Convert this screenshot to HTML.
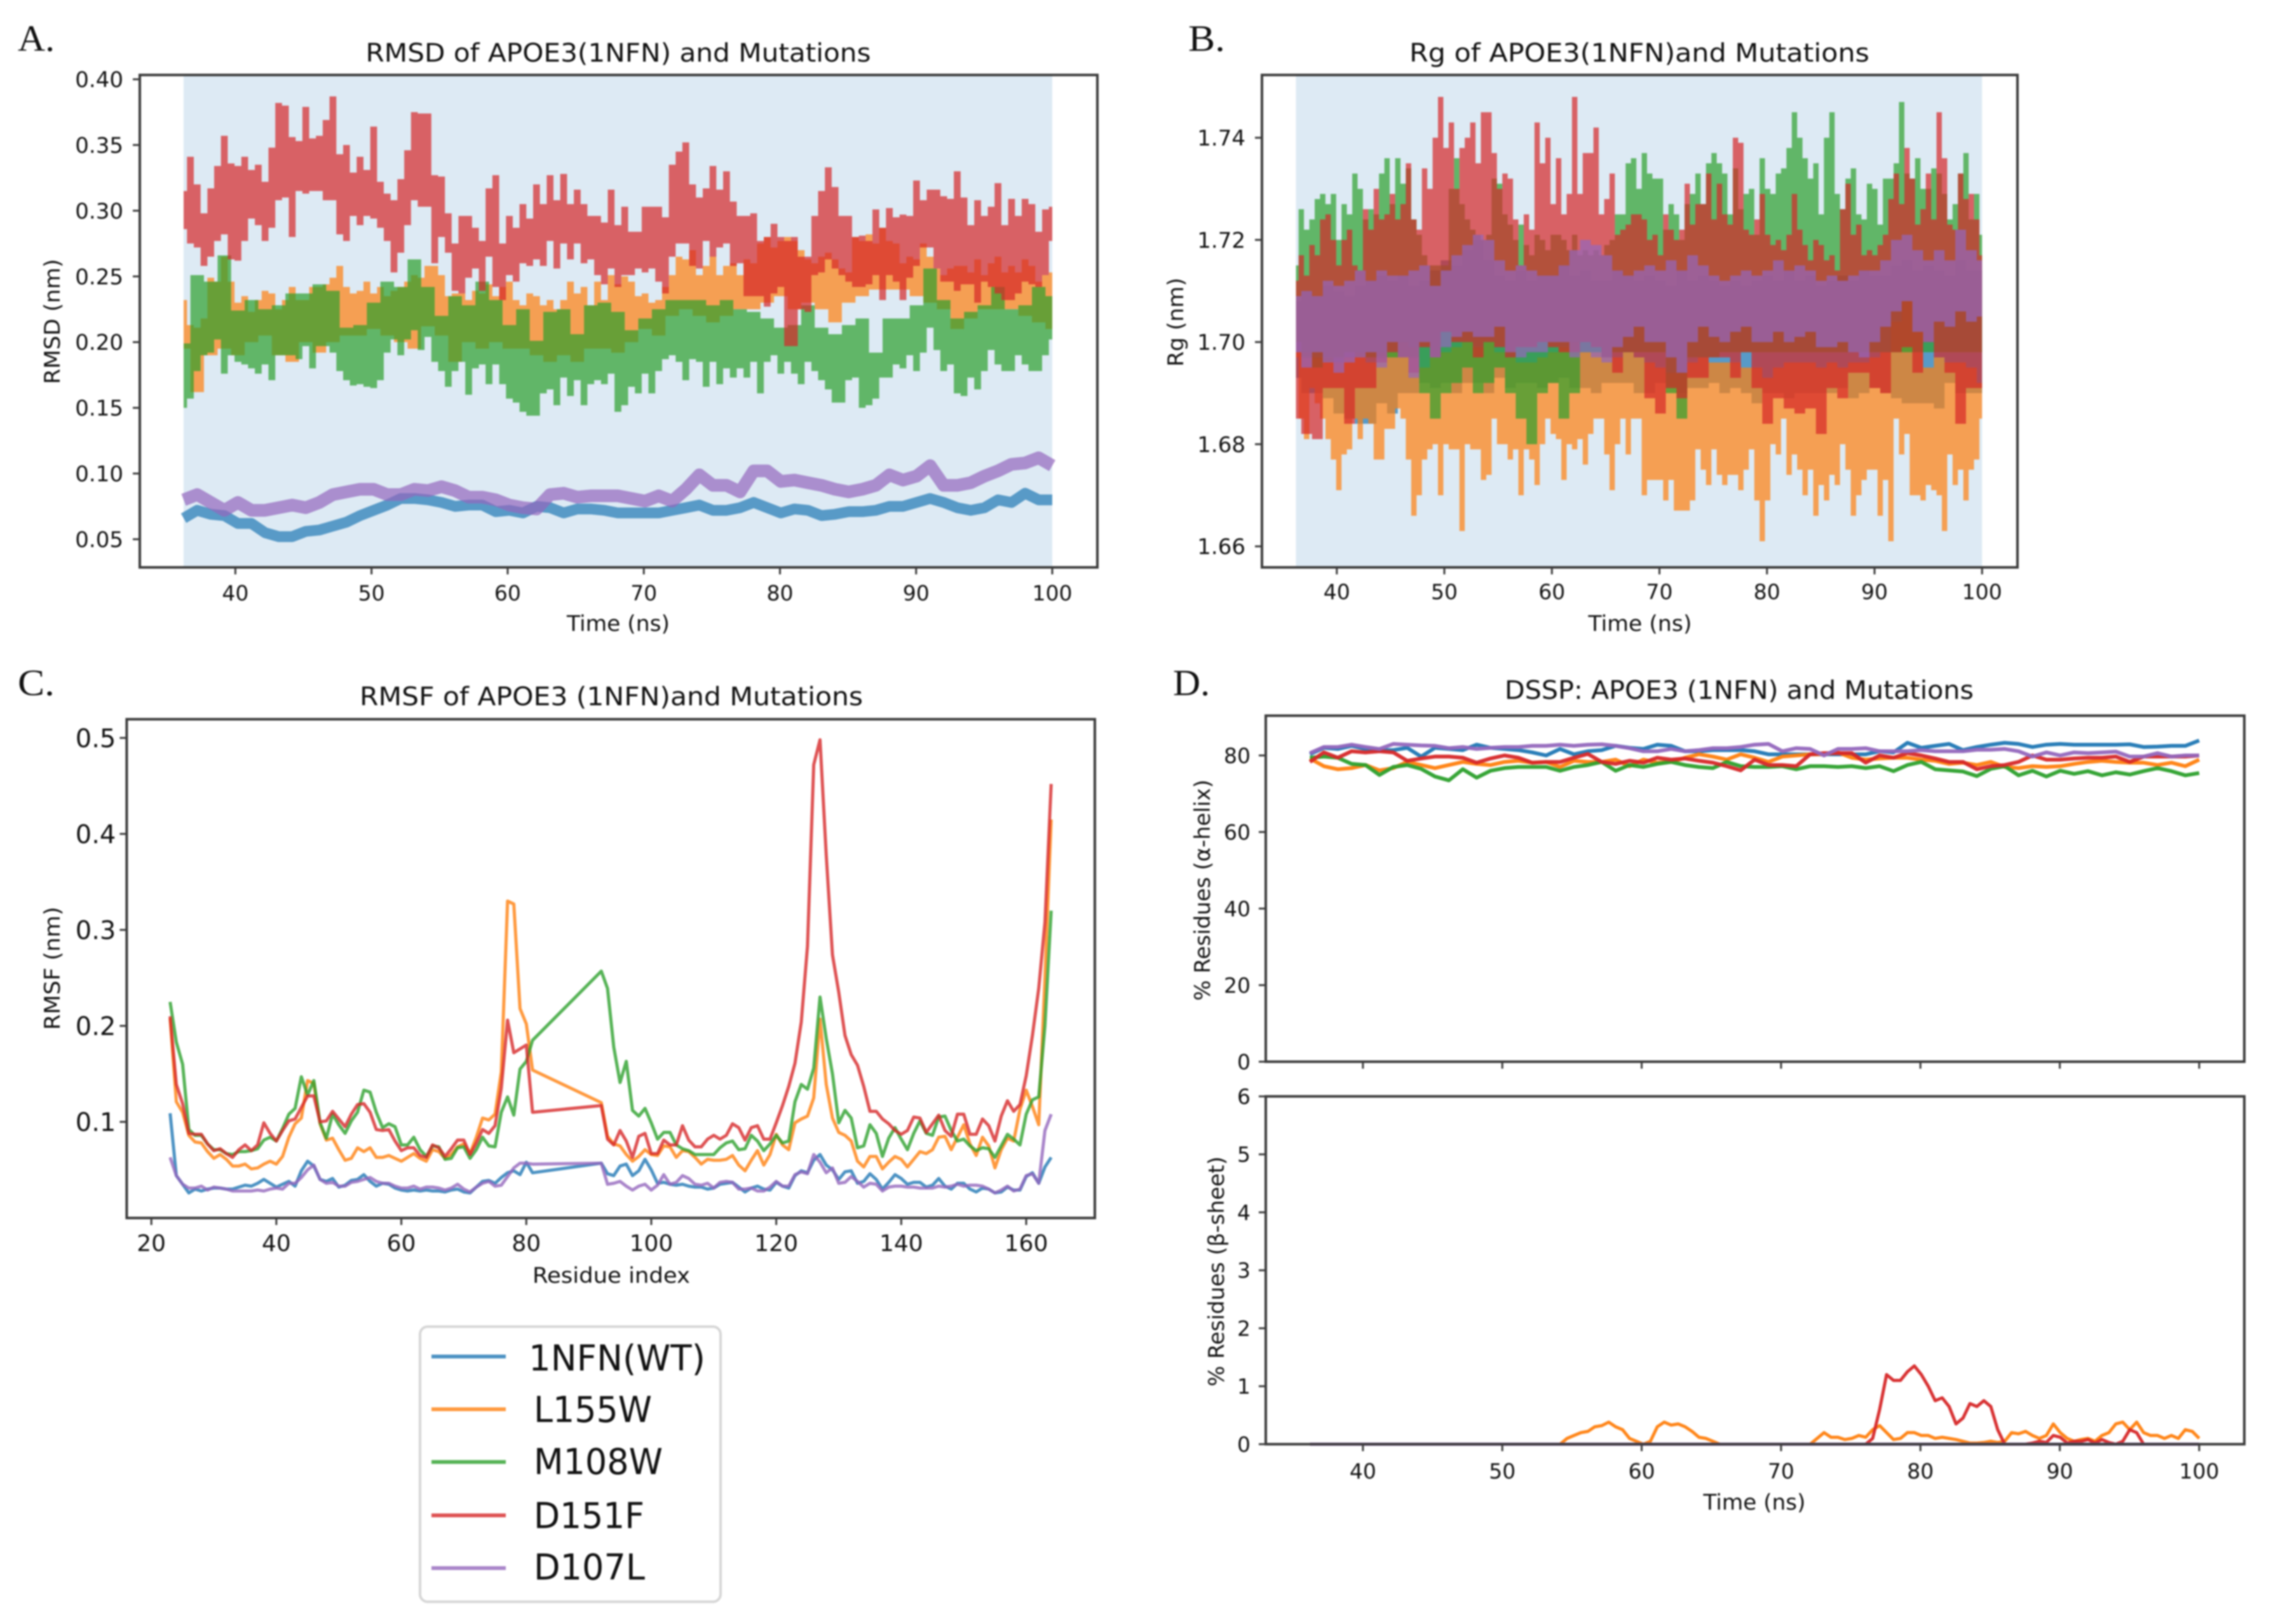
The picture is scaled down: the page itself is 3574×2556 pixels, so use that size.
<!DOCTYPE html>
<html lang="en">
<head>
<meta charset="utf-8">
<title>APOE3 (1NFN) and Mutations: RMSD, Rg, RMSF and DSSP</title>
<style>
html,body{margin:0;padding:0;background:#fff;width:3574px;height:2556px;overflow:hidden}
#figure{display:block;filter:blur(1.4px);font-family:"DejaVu Sans","Liberation Sans",sans-serif;fill:#111}
.letter{font-family:"Liberation Serif",serif;font-size:58px;fill:#111}
.title{font-size:40px}
.axis-label{font-size:34px}
.legend-text{font-size:56px}
</style>
</head>
<body>
<svg id="figure" xmlns="http://www.w3.org/2000/svg" width="3574" height="2556" viewBox="0 0 3574 2556">
  <rect width="3574" height="2556" fill="#fff"/>

  <g id="panelA">
    <text class="letter" x="28" y="80" textLength="58" lengthAdjust="spacingAndGlyphs">A.</text>
    <text class="title" x="973" y="97" text-anchor="middle" textLength="795" lengthAdjust="spacingAndGlyphs">RMSD of APOE3(1NFN) and Mutations</text>
    <text class="axis-label" x="973" y="993" text-anchor="middle" textLength="162" lengthAdjust="spacingAndGlyphs">Time (ns)</text>
    <text class="axis-label" x="94" y="506" text-anchor="middle" transform="rotate(-90 94 506)" textLength="197" lengthAdjust="spacingAndGlyphs">RMSD (nm)</text>
  </g>
  <g id="panelB">
    <text class="letter" x="1870" y="80" textLength="58" lengthAdjust="spacingAndGlyphs">B.</text>
    <text class="title" x="2580" y="97" text-anchor="middle" textLength="724" lengthAdjust="spacingAndGlyphs">Rg of APOE3(1NFN)and Mutations</text>
    <text class="axis-label" x="2581" y="993" text-anchor="middle" textLength="163" lengthAdjust="spacingAndGlyphs">Time (ns)</text>
    <text class="axis-label" x="1862" y="507" text-anchor="middle" transform="rotate(-90 1862 507)" textLength="140" lengthAdjust="spacingAndGlyphs">Rg (nm)</text>
  </g>
  <g id="panelC">
    <text class="letter" x="28" y="1094" textLength="58" lengthAdjust="spacingAndGlyphs">C.</text>
    <text class="title" x="962" y="1110" text-anchor="middle" textLength="792" lengthAdjust="spacingAndGlyphs">RMSF of APOE3 (1NFN)and Mutations</text>
    <text class="axis-label" x="962" y="2019" text-anchor="middle" textLength="248" lengthAdjust="spacingAndGlyphs">Residue index</text>
    <text class="axis-label" x="94" y="1524" text-anchor="middle" transform="rotate(-90 94 1524)" textLength="194" lengthAdjust="spacingAndGlyphs">RMSF (nm)</text>
  </g>
  <g id="panelD">
    <text class="letter" x="1846" y="1094" textLength="58" lengthAdjust="spacingAndGlyphs">D.</text>
    <text class="title" x="2737" y="1100" text-anchor="middle" textLength="738" lengthAdjust="spacingAndGlyphs">DSSP: APOE3 (1NFN) and Mutations</text>
    <text class="axis-label" x="2761" y="2376" text-anchor="middle" textLength="161" lengthAdjust="spacingAndGlyphs">Time (ns)</text>
    <text class="axis-label" x="1904" y="1401" text-anchor="middle" transform="rotate(-90 1904 1401)" textLength="348" lengthAdjust="spacingAndGlyphs">% Residues (α-helix)</text>
    <text class="axis-label" x="1926" y="2001" text-anchor="middle" transform="rotate(-90 1926 2001)" textLength="362" lengthAdjust="spacingAndGlyphs">% Residues (β-sheet)</text>
  </g>

  <g id="legend">
    <rect x="661" y="2088" width="473" height="433" rx="12" fill="#fff" stroke="#d6d6d6" stroke-width="4"/>
    <g>
      <line x1="679" y1="2135" x2="796" y2="2135" stroke="#1f77b4" stroke-opacity=".8" stroke-width="6"/>
      <text class="legend-text" x="832" y="2157" textLength="278" lengthAdjust="spacingAndGlyphs">1NFN(WT)</text>
    </g>
    <g>
      <line x1="679" y1="2218" x2="796" y2="2218" stroke="#ff7f0e" stroke-opacity=".8" stroke-width="6"/>
      <text class="legend-text" x="840" y="2238" textLength="186" lengthAdjust="spacingAndGlyphs">L155W</text>
    </g>
    <g>
      <line x1="679" y1="2301" x2="796" y2="2301" stroke="#2ca02c" stroke-opacity=".8" stroke-width="6"/>
      <text class="legend-text" x="840" y="2320" textLength="203" lengthAdjust="spacingAndGlyphs">M108W</text>
    </g>
    <g>
      <line x1="679" y1="2385" x2="796" y2="2385" stroke="#d62728" stroke-opacity=".8" stroke-width="6"/>
      <text class="legend-text" x="840" y="2405" textLength="174" lengthAdjust="spacingAndGlyphs">D151F</text>
    </g>
    <g>
      <line x1="679" y1="2468" x2="796" y2="2468" stroke="#9467bd" stroke-opacity=".8" stroke-width="6"/>
      <text class="legend-text" x="840" y="2486" textLength="175" lengthAdjust="spacingAndGlyphs">D107L</text>
    </g>
  </g>
</svg>

<script>
/* ---------- tick values and labels ---------- */
const timeTicks = [40,50,60,70,80,90,100];
const timeLabels = ["40","50","60","70","80","90","100"];
const rmsdTicks = [50,100,150,200,250,300,350,400];
const rmsdLabels = ["0.05","0.10","0.15","0.20","0.25","0.30","0.35","0.40"];
const rgTicks = [1660,1680,1700,1720,1740];
const rgLabels = ["1.66","1.68","1.70","1.72","1.74"];
const rmsfXTicks = [20,40,60,80,100,120,140,160];
const rmsfXLabels = ["20","40","60","80","100","120","140","160"];
const rmsfYTicks = [100,200,300,400,500];
const rmsfYLabels = ["0.1","0.2","0.3","0.4","0.5"];
const helixTicks = [0,20,40,60,80];
const helixLabels = ["0","20","40","60","80"];
const sheetTicks = [0,1,2,3,4,5,6];
const sheetLabels = ["0","1","2","3","4","5","6"];

/* ---------- A. RMSD, thousandths of a nm; traces span the analysis window evenly ---------- */
const rmsdWT = [66,72,69,68,62,62,55,52, 52,56,57,60,63,68,72,76, 81,81,80,78,75,76,76,71, 72,70,75,74,70,73,73,72, 70,70,70,70,72,74,76,72, 72,74,78,74,70,73,72,68, 69,71,71,72,75,75,78,81, 78,74,72,74,80,78,85,80, 80];
const rmsdD107L = [80,84,78,72,78,72,72,74, 76,74,78,84,86,88,88,84, 84,88,87,90,87,82,82,80, 76,74,73,84,85,82,83,83, 83,81,79,83,79,88,99,91, 91,86,102,102,94,95,93,91, 88,86,88,91,99,95,98,106, 91,91,93,98,102,107,108,112, 106];
const rmsdL155WHigh = [232,213,211,218,249,246,265,246,230,235,223,232,239,237,225,232,
242,232,232,242,242,244,249,258,242,237,239,246,237,242,235,239,
242,246,251,249,258,258,251,235,237,237,232,239,237,244,235,242,
246,232,228,237,235,228,232,225,232,246,237,242,228,246,232,251,
244,250,246,235,237,230,232,242,251,265,263,270,251,258,265,251,
258,260,251,263,260,275,280,272,277,280,277,270,263,260,265,268,
263,256,253,280,277,282,275,287,277,275,260,265,263,275,265,256,
251,256,258,258,253,263,251,260,265,253,258,253,263,258,246,251,
253];
const rmsdL155WLow = [195,162,190,195,190,200,205,190, 185,200,192,200,205,205,210,205, 200,195,212,205,185,200,195,200, 195,195,190,185,190,185,195,195, 192,200,210,205,220,225,220,215, 220,225,225,230,235,225,230,225, 215,230,235,240,240,240,235,230, 225,210,218,225,225,225,220,215, 210];
const rmsdM108WHigh = [199,251,246,266,224,232,225,228, 237,237,244,239,211,213,230,246, 242,263,242,220,235,228,246,232, 213,225,201,223,225,206,228,230, 223,209,218,225,232,232,232,228, 232,225,223,218,211,213,228,211, 206,213,218,192,218,218,228,256, 232,218,223,228,242,225,228,242, 235];
const rmsdM108WLow = [150,157,178,190,192,202,176,190,185,183,180,176,183,171,190,190,
190,187,197,180,197,197,192,178,171,167,168,166,165,171,192,202,
190,202,209,194,204,185,178,166,178,185,160,180,183,168,183,168,
157,154,147,144,144,161,164,152,173,159,171,152,168,171,168,176,
147,152,166,161,176,161,178,187,190,185,171,187,185,166,185,168,
180,173,180,173,185,161,185,190,176,185,176,168,185,178,171,164,
154,154,171,173,150,152,157,173,173,183,180,190,178,192,211,194,
178,183,161,159,173,164,178,194,183,178,178,190,183,178,178,190,
202];
const rmsdD151FHigh = [315,341,320,298,317,334,357,336,334,341,331,335,322,348,382,380,
356,353,379,355,357,369,387,343,350,329,341,331,364,322,313,308,
324,346,375,374,374,327,326,298,275,296,296,287,277,317,327,275,
296,287,305,294,320,305,327,308,328,305,316,305,296,296,291,316,
289,303,284,284,303,303,303,295,335,345,352,320,310,317,334,316,
330,307,296,296,298,277,280,290,280,277,280,265,265,296,315,333,
318,296,296,280,281,277,301,287,302,295,297,296,323,308,316,316,
311,309,330,310,289,308,296,303,321,289,309,296,309,305,284,301,
303];
const rmsdD151FLow = [286,275,272,258,265,277,282,263,262,277,294,289,277,287,308,310,
280,315,313,315,315,308,308,282,277,296,289,296,294,287,277,253,
268,289,308,303,303,260,280,268,239,237,249,256,239,265,242,232,
251,246,260,258,263,258,277,256,275,263,275,260,263,251,244,256,
242,251,251,256,253,256,246,237,265,275,275,258,256,277,265,272,
275,258,260,235,235,235,227,237,242,197,197,225,223,251,253,263,
256,251,246,242,242,244,251,232,251,246,232,249,258,272,272,256,
246,246,239,244,244,230,246,242,237,232,232,237,246,244,242,251,
277];

/* ---------- B. Rg, thousandths of a nm ---------- */
const rgWTHigh = [1708,1710,1709,1711,1710,1709,1711,1712, 1713,1712,1713,1711,1712,1714,1716,1715, 1718,1720,1716,1713,1712,1714,1712,1713, 1713,1715,1713,1714,1712,1712,1714,1713, 1712,1713,1712,1711,1714,1712,1713,1712, 1711,1712,1711,1712,1713,1712,1714,1712, 1713,1711,1712,1713,1712,1714,1713,1713, 1715,1716,1714,1715,1714,1713,1716,1714, 1714];
const rgWTLow = [1693,1690,1690,1689,1686,1685,1684,1684, 1688,1686,1690,1690,1692,1691,1692,1690, 1692,1692,1690,1693,1691,1692,1692,1691, 1692,1693,1691,1691,1690,1692,1692,1692, 1690,1690,1692,1691,1690,1691,1691,1692, 1690,1691,1690,1688,1690,1690,1689,1690, 1690,1690,1690,1691,1689,1690,1691,1690, 1689,1688,1688,1688,1687,1692,1690,1690, 1690];
const rgL155WHigh = [1698,1698,1697,1697,1696,1697,1698,1696, 1698,1698,1700,1699,1695,1697,1698,1699, 1700,1699,1700,1698,1697,1696,1696,1697, 1698,1699,1700,1698,1698,1697,1697,1698, 1697,1696,1695,1694,1694,1696,1697,1696, 1696,1696,1695,1695,1693,1695,1696,1696, 1696,1695,1696,1695,1696,1696,1697,1698, 1704,1708,1702,1695,1697,1696,1696,1695, 1692];
const rgL155WLow = [1697,1685,1681,1691,1688,1685,1681,1677,1671,1678,1679,1685,1681,1685,1684,1677,
1677,1683,1683,1687,1685,1677,1666,1670,1677,1679,1680,1670,1680,1679,1679,1663,
1680,1679,1679,1673,1674,1685,1680,1680,1677,1679,1670,1679,1677,1672,1680,1685,
1682,1681,1673,1680,1679,1681,1676,1682,1685,1685,1678,1671,1680,1685,1678,1685,
1685,1670,1673,1673,1673,1669,1673,1667,1667,1667,1669,1679,1675,1672,1679,1674,
1672,1674,1674,1671,1675,1679,1669,1661,1669,1680,1678,1685,1674,1678,1675,1670,
1675,1666,1672,1669,1674,1672,1680,1675,1666,1670,1673,1675,1675,1666,1673,1661,
1685,1678,1682,1670,1670,1669,1672,1671,1670,1663,1678,1672,1675,1669,1675,1677,
1685];
const rgM108WHigh = [1715,1726,1722,1724,1728,1729,1727,1729,1720,1727,1725,1733,1730,1724,1726,1725,
1733,1736,1727,1736,1731,1734,1724,1721,1717,1715,1715,1715,1715,1730,1736,1727,
1724,1722,1721,1720,1721,1732,1731,1725,1723,1720,1723,1719,1717,1721,1720,1718,
1721,1721,1720,1718,1721,1717,1718,1717,1718,1717,1719,1720,1725,1725,1735,1736,
1730,1737,1733,1732,1732,1722,1727,1725,1720,1727,1729,1733,1727,1735,1737,1735,
1733,1725,1734,1726,1729,1730,1721,1736,1730,1729,1733,1734,1738,1745,1740,1736,
1732,1735,1725,1740,1745,1729,1726,1732,1734,1725,1724,1731,1730,1723,1732,1732,
1735,1747,1733,1732,1736,1730,1730,1734,1733,1729,1724,1727,1733,1737,1724,1729,
1721];
const rgM108WLow = [1700,1697,1695,1696,1697,1698,1697,1697, 1697,1697,1697,1697,1690,1685,1690,1692, 1695,1690,1692,1695,1690,1685,1680,1690, 1692,1685,1690,1698,1698,1697,1698,1698, 1698,1698,1698,1690,1685,1697,1697,1697, 1698,1698,1698,1698,1698,1698,1698,1698, 1698,1698,1698,1698,1698,1698,1698,1698, 1698,1698,1698,1698,1698,1698,1698,1698, 1698];
const rgD151FHigh = [1712,1717,1713,1719,1717,1724,1725,1720,1715,1720,1722,1715,1714,1726,1722,1730,
1724,1725,1729,1724,1727,1735,1724,1722,1734,1730,1740,1748,1738,1743,1730,1738,
1740,1743,1735,1745,1745,1737,1730,1733,1732,1724,1715,1725,1722,1743,1735,1740,
1727,1736,1725,1729,1748,1729,1737,1737,1742,1725,1728,1733,1721,1722,1723,1725,
1725,1724,1720,1721,1717,1725,1722,1720,1722,1731,1723,1727,1727,1733,1724,1731,
1725,1723,1740,1739,1722,1721,1724,1729,1721,1719,1720,1718,1721,1729,1722,1719,
1716,1720,1719,1716,1717,1714,1726,1731,1721,1723,1717,1718,1717,1719,1721,1728,
1733,1727,1738,1732,1723,1726,1733,1724,1745,1736,1723,1722,1733,1728,1729,1724,
1717];
const rgD151FLow = [1685,1682,1681,1691,1691,1684,1691,1691, 1696,1698,1697,1694,1699,1697,1702,1700, 1700,1697,1700,1699,1697,1699,1699,1700, 1699,1698,1698,1700,1699,1697,1694,1698, 1697,1689,1686,1691,1689,1693,1693,1697, 1697,1693,1698,1691,1684,1689,1687,1686, 1687,1682,1691,1689,1694,1694,1691,1690, 1698,1699,1694,1700,1697,1694,1684,1691, 1691];
const rgD107LHigh = [1709,1710,1709,1712,1711,1712,1714,1712, 1714,1713,1713,1714,1715,1711,1714,1717, 1719,1721,1720,1716,1714,1715,1714,1713, 1713,1715,1718,1720,1719,1717,1714,1713, 1714,1715,1714,1716,1714,1717,1715,1713, 1712,1713,1714,1713,1714,1716,1714,1715, 1714,1712,1713,1712,1713,1714,1714,1716, 1720,1721,1718,1716,1718,1716,1722,1718, 1716];
const rgD107LLow = [1698,1695,1698,1696,1694,1696,1697,1698, 1695,1700,1697,1693,1700,1697,1699,1701, 1702,1701,1701,1703,1698,1697,1698,1698, 1700,1700,1697,1698,1697,1696,1699,1701, 1703,1700,1700,1697,1694,1700,1703,1701, 1700,1702,1703,1700,1700,1702,1700,1701, 1702,1699,1699,1700,1698,1697,1700,1703, 1706,1708,1702,1700,1704,1703,1706,1704, 1705];

/* ---------- C. RMSF, thousandths of a nm ---------- */
const residues = [23,24,25,26,27,28,29,30,31,32,33,34,35,36,37,38,39,40,41,42,43,44,45,46,47,48,49,50,51,52,53,54,55,56,57,58,59,60,61,62,63,64,65,66,67,68,69,70,71,72,73,74,75,76,77,78,79,80,81,
92,93,94,95,96,97,98,99,100,101,102,103,104,105,106,107,108,109,110,111,112,113,114,115,116,117,118,119,120,121,122,123,124,125,126,127,128,129,130,131,132,133,134,135,136,137,138,139,140,141,142,143,144,145,146,147,148,149,150,151,152,153,154,155,156,157,158,159,160,161,162,163,164];
const rmsfWT = [109,44,35,26,30,28,30,31,31,30, 30,32,34,33,36,40,36,32,35,38, 33,49,59,54,40,38,41,32,34,39, 40,45,38,33,36,35,31,29,28,29, 28,29,28,28,27,29,30,27,26,32, 38,39,36,42,47,49,45,58,47,
57,46,44,54,56,44,49,61,50,36, 37,35,34,35,33,32,32,30,31,35, 36,37,32,27,31,33,30,29,37,33, 31,44,49,47,60,66,55,50,40,48, 49,36,38,46,40,30,37,45,41,35, 37,37,32,34,41,33,30,36,36,30, 27,31,30,26,27,32,29,29,43,47, 36,53,63];
const rmsfL155W = [208,121,110,86,79,78,69,62,66,61, 54,54,56,51,52,56,59,56,64,84, 98,104,143,140,98,81,83,71,60,62, 73,69,73,63,63,65,62,59,63,67, 62,59,71,69,62,66,74,77,67,84, 104,102,108,152,330,327,218,202,154,
120,85,77,75,66,59,64,71,66,65, 75,74,63,70,69,63,56,61,60,60, 61,65,55,49,60,70,55,66,87,76, 71,99,103,106,125,207,139,104,89,86, 80,59,53,64,64,51,58,64,61,53, 61,69,67,71,84,85,71,84,97,77, 65,84,75,52,71,83,80,113,133,116, 97,250,415];
const rmsfM108W = [225,183,160,92,86,86,77,71,71,67, 66,69,69,70,72,81,84,80,93,108, 114,147,128,143,99,83,108,97,88,101, 110,133,131,110,94,98,95,76,76,84, 71,64,75,74,61,62,73,74,62,71, 84,75,74,110,126,107,155,163,185,
257,239,178,141,163,112,106,114,99,82, 89,89,76,72,70,66,66,66,66,73, 78,80,71,72,86,80,70,77,86,78, 80,121,139,134,156,230,187,150,99,112, 104,73,75,97,88,64,83,94,82,71, 88,101,88,86,105,106,91,80,82,75, 70,73,72,63,75,87,82,76,108,123, 126,200,320];
const rmsfD151F = [210,139,119,88,87,87,77,70,72,67, 63,71,76,70,76,99,88,80,91,101, 103,115,127,127,100,101,111,103,95,108, 118,119,110,92,91,92,80,70,73,73, 65,63,76,73,64,72,81,81,66,78, 92,88,96,135,206,172,176,180,110,
117,82,76,91,80,63,85,88,67,67, 81,76,76,96,81,74,74,82,86,82, 86,98,94,81,94,96,82,82,99,117, 137,161,204,283,472,498,378,274,235,190, 170,159,137,111,111,103,98,91,87,91, 105,104,89,98,107,91,85,108,108,87, 87,103,96,80,106,122,111,118,148,190, 239,308,452];
const rmsfD107L = [63,44,35,31,31,33,29,32,31,30, 28,28,28,28,29,28,30,31,30,36, 36,42,50,55,40,36,37,33,33,37, 38,40,42,38,36,36,33,31,31,33, 30,32,32,31,29,31,35,30,27,32, 36,38,33,34,43,52,57,57,56,
57,35,36,38,33,29,33,35,29,34, 45,35,37,44,41,35,34,36,31,37, 38,37,30,30,31,28,28,32,38,33, 33,45,48,46,66,58,47,52,36,37, 43,38,32,36,35,28,32,33,33,32, 32,31,31,31,33,32,33,35,33,34, 34,33,30,26,29,33,28,30,44,46, 36,91,108];

/* ---------- D. DSSP percentages; helix traces one sample per ns, sheet traces one per 0.5 ns ---------- */
const helixWT = [80.3,82,81.7,82.5,81.7,81.4,81.4,82, 79.7,82,81.7,81.4,82.8,82,81.7,81.4, 80.8,80,81.7,80.3,81.1,81.4,82.5,82, 81.7,82.8,82.5,81.1,81.1,81.4,81.4,81.4, 81.1,80.3,80.3,80.3,80.3,80.3,80.3,80.3, 80.3,81.1,80.8,83.3,82,82.5,83,81.4, 82.2,82.8,83.3,83,82.2,82.8,83,82.8, 82.8,82.8,82.8,82.9,82.2,82.3,82.5,82.5, 83.9];
const helixL155W = [79.2,77.2,76.4,76.7,77.5,76.1,76.7,78.3, 77.5,76.7,77.5,78.3,77.8,77.5,78.3,78.6, 78.1,78.3,77,78.6,78.3,78.3,78.9,77.2, 78.9,78.1,78.3,79.4,80.3,79.7,78.9,80.3, 79.4,78.3,79.7,80,80.3,80.3,80.8,79.4, 78.9,79.2,79.4,79.4,78.9,78.6,77.8,78.1, 77.5,78.3,77,76.7,77.2,77,77.2,77.8, 78.3,78.6,78.3,78.1,78.1,77.5,78.1,77.2, 78.9];
const helixM108W = [79.4,79.7,79.4,77.8,77.5,74.9,77,77.5, 76.5,74.5,73.5,76.4,74.2,76,76.7,77, 77,77,76,77,77.5,78.3,76,77.5, 77,77.8,78.3,77.5,77,76.7,78.3,77.2, 77,77,77.2,76.4,77.2,77.2,77,77.2, 76.7,77.2,75.9,77.5,78.3,76.4,76.1,75.8, 74.6,76.5,77.2,74.8,76,74.5,76,75.2, 75.9,74.8,75.6,75,75.9,76.7,75.9,74.8, 75.4];
const helixD151F = [78.3,80.8,79.4,81.1,80.8,81.1,80.8,78.6, 79.2,79.7,79.7,79.4,78.1,79.2,80,79.4, 78.1,78.3,78.3,79.4,80.4,78.3,77.8,78.6, 78.1,79.4,78.9,79.2,78.6,78.1,77.2,76.1, 78.9,77.5,77.5,77.2,80.3,80.6,80.6,80.6, 78.1,80,79.4,80.6,80,79.2,78.3,78.3, 76.4,77.2,77.5,78.3,80,78.9,78.9,79.2, 79.4,79.4,79.7,78.3,79.7,79.7,79.7,79.7, 80];
const helixD107L = [80.6,82.2,82.2,82.8,82.2,81.7,83,82.8, 82.6,82.5,81.9,82.2,81.7,82,82.2,82.2, 82.5,82.5,82.8,82.5,82.8,82.9,82.5,81.9, 81.1,81.1,81.7,81.1,81.4,81.9,81.9,82.2, 82.8,83,81.1,81.9,81.7,80,81.7,81.7, 81.9,81.1,81.1,81.1,81.4,81.1,81.1,81.1, 81.5,81.5,81.7,81.1,79.7,80.8,80,80.8, 80.6,80.8,81,79.7,79.7,80.6,79.7,80, 80];
const sheetWT = [0,0];
const sheetM108W = [0,0];
const sheetD107L = [0,0];
const sheetL155W = [0,0,0,0,0,0,0,0,0,0,0,0,0,0,0,0,
0,0,0,0,0,0,0,0,0,0,0,0,0,0,0,0,
0,0,0,0,0,.1,.15,.2,.22,.3,.32,.38,.3,.25,.1,.05,
0,.05,.3,.38,.33,.35,.3,.22,.12,.1,.05,0,0,0,0,0,
0,0,0,0,0,0,0,0,0,.1,.2,.12,.12,.08,.1,.15,
.12,.25,.32,.2,.08,.1,.2,.2,.15,.15,.1,.12,.1,.08,.05,.02,
.02,.03,.05,.03,.05,.2,.18,.22,.15,.1,.15,.35,.2,.1,.05,.08,
.1,.05,.15,.2,.35,.38,.25,.38,.2,.15,.15,.1,.15,.1,.25,.22,
.1];
const sheetD151F = [0,0,0,0,0,0,0,0,0,0,0,0,0,0,0,0,
0,0,0,0,0,0,0,0,0,0,0,0,0,0,0,0,
0,0,0,0,0,0,0,0,0,0,0,0,0,0,0,0,
0,0,0,0,0,0,0,0,0,0,0,0,0,0,0,0,
0,0,0,0,0,0,0,0,0,0,0,0,0,0,0,0,
0,.1,.6,1.2,1.1,1.1,1.25,1.35,1.2,1,.75,.8,.65,.35,.45,.7,
.65,.75,.65,.25,0,0,0,0,.02,.05,.03,.15,.12,.02,.05,.05,
.08,.02,.08,.03,0,.05,.25,.2,0,0,0,0,0,0,0,0,
0];

/* ---------- drawing ---------- */
const NS = 'http://www.w3.org/2000/svg';
const BLUE = '#1f77b4', ORANGE = '#ff7f0e', GREEN = '#2ca02c', RED = '#d62728', PURPLE = '#9467bd';
const SPINE = '#3c3c3c';
const T_START = 36.2, T_END = 100;

function linear(d0, d1, r0, r1) {
  return function (v) { return r0 + (v - d0) * (r1 - r0) / (d1 - d0); };
}
function shape(tag, attrs, parent) {
  const el = document.createElementNS(NS, tag);
  for (const k in attrs) el.setAttribute(k, attrs[k]);
  parent.appendChild(el);
  return el;
}
function timeAt(i, n) { return T_START + i * (T_END - T_START) / (n - 1); }

function drawShade(parent, x, y, box) {
  const el = shape('rect', {x: x(T_START), y: box.top, width: x(T_END) - x(T_START), height: box.bottom - box.top, fill: '#ddeaf4'}, parent);
  
  
}
function drawFrame(parent, box, name) {
  const el = shape('rect', {x: box.left, y: box.top, width: box.right - box.left, height: box.bottom - box.top, fill: 'none', stroke: SPINE, 'stroke-width': 4}, parent);
  
  
}
function drawXTicks(parent, x, box, ticks, labels, fontSize, baseline, prefix) {
  ticks.forEach(function (t, i) {
    const tick = shape('line', {x1: x(t), x2: x(t), y1: box.bottom, y2: box.bottom + 11, stroke: SPINE, 'stroke-width': 3}, parent);
    
    
    if (labels) {
      const label = shape('text', {x: x(t), y: baseline, 'text-anchor': 'middle', 'font-size': fontSize}, parent);
      
      
      label.textContent = labels[i];
    }
  });
}
function drawYTicks(parent, y, box, ticks, labels, fontSize, gap, prefix) {
  ticks.forEach(function (t, i) {
    const tick = shape('line', {x1: box.left - 11, x2: box.left, y1: y(t), y2: y(t), stroke: SPINE, 'stroke-width': 3}, parent);
    
    
    const label = shape('text', {x: box.left - gap, y: y(t) + fontSize * 0.36, 'text-anchor': 'end', 'font-size': fontSize}, parent);
    
    
    label.textContent = labels[i];
  });
}
/* trace envelope: each sample is a flat-topped column, upper edge left to right, lower edge back again */
function stepPoints(values, x, y) {
  const dt = (T_END - T_START) / (values.length - 1);
  const pts = [];
  values.forEach(function (v, i) {
    const t = timeAt(i, values.length);
    const tL = Math.max(T_START, t - dt / 2), tR = Math.min(T_END, t + dt / 2);
    pts.push(x(tL).toFixed(1) + ',' + y(v).toFixed(1));
    pts.push(x(tR).toFixed(1) + ',' + y(v).toFixed(1));
  });
  return pts;
}
function drawBand(parent, x, y, high, low, color, name) {
  const pts = stepPoints(high, x, y).concat(stepPoints(low, x, y).reverse());
  const el = shape('polygon', {points: pts.join(' '), fill: color, 'fill-opacity': 0.7}, parent);
  
  
}
function drawTimeLine(parent, x, y, values, color, width, opacity, name) {
  const pts = values.map(function (v, i) { return x(timeAt(i, values.length)).toFixed(1) + ',' + y(v).toFixed(1); });
  const el = shape('polyline', {points: pts.join(' '), fill: 'none', stroke: color, 'stroke-width': width, 'stroke-opacity': opacity, 'stroke-linejoin': 'round'}, parent);
  
  
}
function drawResidueLine(parent, x, y, cats, values, color, name) {
  const pts = values.map(function (v, i) { return x(cats[i]).toFixed(1) + ',' + y(v).toFixed(1); });
  const el = shape('polyline', {points: pts.join(' '), fill: 'none', stroke: color, 'stroke-width': 5, 'stroke-opacity': 0.8, 'stroke-linejoin': 'round'}, parent);
  
  
}

/* A */
(function () {
  const g = document.getElementById('panelA');
  const box = {left: 220, right: 1727, top: 118, bottom: 893};
  const x = linear(40, 100, 370.4, 1656), y = linear(50, 400, 848.7, 124.8);
  drawShade(g, x, y, box);
  drawTimeLine(g, x, y, rmsdWT, BLUE, 17, 0.7, 'rmsd-line-1nfn');
  drawBand(g, x, y, rmsdL155WHigh, rmsdL155WLow, ORANGE, 'rmsd-line-l155w');
  drawBand(g, x, y, rmsdM108WHigh, rmsdM108WLow, GREEN, 'rmsd-line-m108w');
  drawBand(g, x, y, rmsdD151FHigh, rmsdD151FLow, RED, 'rmsd-line-d151f');
  drawTimeLine(g, x, y, rmsdD107L, PURPLE, 20, 0.7, 'rmsd-line-d107l');
  drawFrame(g, box, 'rmsd-axes-frame');
  drawXTicks(g, x, box, timeTicks, timeLabels, 33, 945, 'rmsd');
  drawYTicks(g, y, box, rmsdTicks, rmsdLabels, 34, 26, 'rmsd');
})();

/* B */
(function () {
  const g = document.getElementById('panelB');
  const box = {left: 1986, right: 3175, top: 118, bottom: 893};
  const x = linear(40, 100, 2103.8, 3119.3), y = linear(1660, 1740, 859.9, 216.8);
  drawShade(g, x, y, box);
  drawBand(g, x, y, rgWTHigh, rgWTLow, BLUE, 'rg-line-1nfn');
  drawBand(g, x, y, rgL155WHigh, rgL155WLow, ORANGE, 'rg-line-l155w');
  drawBand(g, x, y, rgM108WHigh, rgM108WLow, GREEN, 'rg-line-m108w');
  drawBand(g, x, y, rgD151FHigh, rgD151FLow, RED, 'rg-line-d151f');
  drawBand(g, x, y, rgD107LHigh, rgD107LLow, PURPLE, 'rg-line-d107l');
  drawFrame(g, box, 'rg-axes-frame');
  drawXTicks(g, x, box, timeTicks, timeLabels, 33, 943, 'rg');
  drawYTicks(g, y, box, rgTicks, rgLabels, 34, 26, 'rg');
})();

/* C */
(function () {
  const g = document.getElementById('panelC');
  const box = {left: 199.4, right: 1723, top: 1132, bottom: 1917};
  const x = linear(20, 160, 238.2, 1615), y = linear(100, 500, 1765.7, 1161.4);
  drawResidueLine(g, x, y, residues, rmsfWT, BLUE, 'rmsf-line-1nfn');
  drawResidueLine(g, x, y, residues, rmsfL155W, ORANGE, 'rmsf-line-l155w');
  drawResidueLine(g, x, y, residues, rmsfM108W, GREEN, 'rmsf-line-m108w');
  drawResidueLine(g, x, y, residues, rmsfD151F, RED, 'rmsf-line-d151f');
  drawResidueLine(g, x, y, residues, rmsfD107L, PURPLE, 'rmsf-line-d107l');
  drawFrame(g, box, 'rmsf-axes-frame');
  drawXTicks(g, x, box, rmsfXTicks, rmsfXLabels, 36, 1969, 'rmsf');
  drawYTicks(g, y, box, rmsfYTicks, rmsfYLabels, 40, 17, 'rmsf');
})();

/* D */
(function () {
  const g = document.getElementById('panelD');
  const top = {left: 1992, right: 3532, top: 1126.4, bottom: 1671};
  const low = {left: 1992, right: 3532, top: 1725.6, bottom: 2273};
  const x = linear(40, 100, 2144.9, 3461);
  const yTop = linear(0, 80, 1671, 1189);
  const yLow = linear(0, 6, 2273, 1725.6);
  drawTimeLine(g, x, yTop, helixWT, BLUE, 6, 0.95, 'helix-line-1nfn');
  drawTimeLine(g, x, yTop, helixL155W, ORANGE, 6, 0.95, 'helix-line-l155w');
  drawTimeLine(g, x, yTop, helixM108W, GREEN, 6, 0.95, 'helix-line-m108w');
  drawTimeLine(g, x, yTop, helixD151F, RED, 6, 0.95, 'helix-line-d151f');
  drawTimeLine(g, x, yTop, helixD107L, PURPLE, 6, 0.95, 'helix-line-d107l');
  drawTimeLine(g, x, yLow, sheetWT, BLUE, 5, 0.95, 'sheet-line-1nfn');
  drawTimeLine(g, x, yLow, sheetL155W, ORANGE, 5, 0.95, 'sheet-line-l155w');
  drawTimeLine(g, x, yLow, sheetM108W, GREEN, 5, 0.95, 'sheet-line-m108w');
  drawTimeLine(g, x, yLow, sheetD151F, RED, 5, 0.95, 'sheet-line-d151f');
  drawTimeLine(g, x, yLow, sheetD107L, PURPLE, 5, 0.95, 'sheet-line-d107l');
  drawFrame(g, top, 'helix-axes-frame');
  drawFrame(g, low, 'sheet-axes-frame');
  drawXTicks(g, x, top, timeTicks, null, 33, 0, 'helix');
  drawXTicks(g, x, low, timeTicks, timeLabels, 33, 2327, 'sheet');
  drawYTicks(g, yTop, top, helixTicks, helixLabels, 33, 24, 'helix');
  drawYTicks(g, yLow, low, sheetTicks, sheetLabels, 33, 24, 'sheet');
})();
</script>
</body>
</html>
